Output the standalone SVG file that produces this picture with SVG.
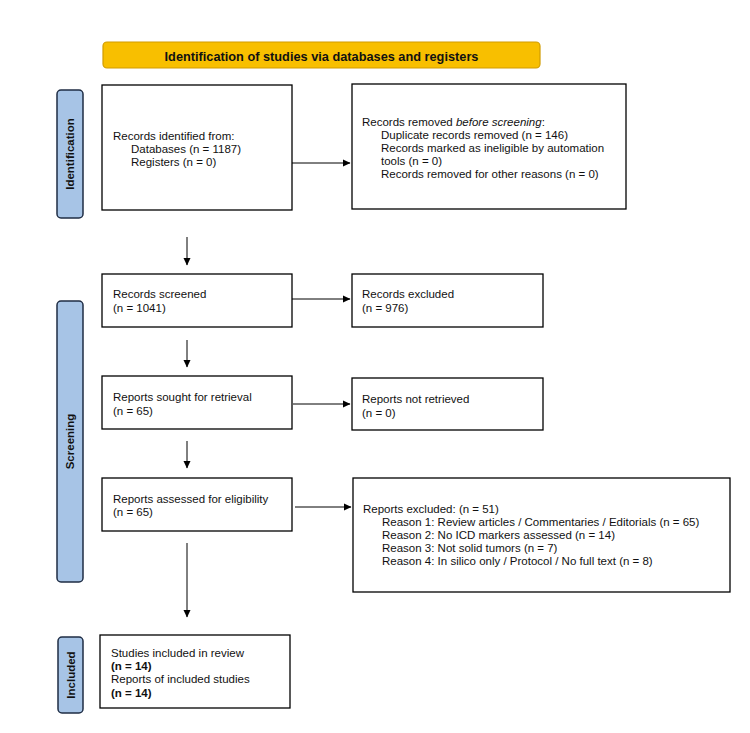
<svg xmlns="http://www.w3.org/2000/svg" width="750" height="733" viewBox="0 0 750 733">
<defs>
<marker id="ah" markerWidth="8" markerHeight="8" refX="7" refY="4" orient="auto" markerUnits="userSpaceOnUse">
<path d="M0,0.5 L7.5,4 L0,7.5 Z" fill="#000"/>
</marker>
<style>
.box{fill:#fff;stroke:#000;stroke-width:1.3}
.side{fill:#a7c4e6;stroke:#1f2d44;stroke-width:1.5}
.t{font-family:"Liberation Sans",Arial,sans-serif;font-size:11.5px;fill:#111}
.b{font-weight:bold}
.lbl{font-family:"Liberation Sans",Arial,sans-serif;font-size:11.5px;font-weight:bold;fill:#111;text-anchor:middle}
.c{stroke:#000;stroke-width:1;fill:none;marker-end:url(#ah)}
</style>
</defs>
<rect width="750" height="733" fill="#fff"/>

<g id="banner">
<rect x="103" y="42" width="437" height="26" rx="4" fill="#f8bf00" stroke="#d19c00" stroke-width="1.2"/>
<text class="lbl" x="321.5" y="61" style="font-size:12.75px">Identification of studies via databases and registers</text>
</g>

<g id="side-identification">
<rect class="side" x="57" y="90" width="26" height="128" rx="4"/>
<text class="lbl" transform="translate(74,154) rotate(-90)">Identification</text>
</g>
<g id="side-screening">
<rect class="side" x="57" y="301" width="26" height="281" rx="4"/>
<text class="lbl" transform="translate(74,441.5) rotate(-90)">Screening</text>
</g>
<g id="side-included">
<rect class="side" x="58" y="637" width="25" height="76" rx="4"/>
<text class="lbl" transform="translate(74.5,675) rotate(-90)">Included</text>
</g>

<g id="records-identified">
<rect class="box" x="102" y="85" width="190" height="125"/>
<text class="t" x="113" y="140">Records identified from:</text>
<text class="t" x="131" y="153">Databases (n = 1187)</text>
<text class="t" x="131" y="166">Registers (n = 0)</text>
</g>

<g id="records-removed">
<rect class="box" x="352" y="84" width="274" height="125"/>
<text class="t" x="362" y="126">Records removed <tspan font-style="italic">before screening</tspan>:</text>
<text class="t" x="381" y="138.5">Duplicate records removed (n = 146)</text>
<text class="t" x="381" y="151.5">Records marked as ineligible by automation</text>
<text class="t" x="381" y="164.5">tools (n = 0)</text>
<text class="t" x="381" y="177.5">Records removed for other reasons (n = 0)</text>
</g>

<g id="records-screened">
<rect class="box" x="102" y="274" width="190" height="53"/>
<text class="t" x="113" y="298">Records screened</text>
<text class="t" x="113" y="312">(n = 1041)</text>
</g>

<g id="records-excluded">
<rect class="box" x="352" y="274" width="191" height="53"/>
<text class="t" x="362" y="298">Records excluded</text>
<text class="t" x="362" y="312">(n = 976)</text>
</g>

<g id="reports-sought">
<rect class="box" x="102" y="376" width="190" height="53"/>
<text class="t" x="113" y="401">Reports sought for retrieval</text>
<text class="t" x="113" y="415">(n = 65)</text>
</g>

<g id="reports-not-retrieved">
<rect class="box" x="352" y="378" width="191" height="52"/>
<text class="t" x="362" y="403">Reports not retrieved</text>
<text class="t" x="362" y="417">(n = 0)</text>
</g>

<g id="reports-assessed">
<rect class="box" x="102" y="478" width="190" height="53"/>
<text class="t" x="113" y="503">Reports assessed for eligibility</text>
<text class="t" x="113" y="516">(n = 65)</text>
</g>

<g id="reports-excluded">
<rect class="box" x="353" y="478" width="377" height="114"/>
<text class="t" x="363" y="513">Reports excluded: (n = 51)</text>
<text class="t" x="382" y="526">Reason 1: Review articles / Commentaries / Editorials (n = 65)</text>
<text class="t" x="382" y="539">Reason 2: No ICD markers assessed (n = 14)</text>
<text class="t" x="382" y="552">Reason 3: Not solid tumors (n = 7)</text>
<text class="t" x="382" y="565">Reason 4: In silico only / Protocol / No full text (n = 8)</text>
</g>

<g id="studies-included">
<rect class="box" x="100" y="635" width="190" height="73"/>
<text class="t" x="111" y="657">Studies included in review</text>
<text class="t b" x="111" y="670">(n = 14)</text>
<text class="t" x="111" y="683">Reports of included studies</text>
<text class="t b" x="111" y="697">(n = 14)</text>
</g>

<g id="connectors">
<line class="c" x1="292" y1="163" x2="350" y2="163"/>
<line class="c" x1="187" y1="237" x2="187" y2="265"/>
<line class="c" x1="292" y1="299" x2="350" y2="299"/>
<line class="c" x1="187" y1="340" x2="187" y2="367"/>
<line class="c" x1="293" y1="404" x2="350" y2="404"/>
<line class="c" x1="187" y1="441" x2="187" y2="468"/>
<line class="c" x1="295" y1="507" x2="351" y2="507"/>
<line class="c" x1="187" y1="543" x2="187" y2="617"/>
</g>
</svg>
